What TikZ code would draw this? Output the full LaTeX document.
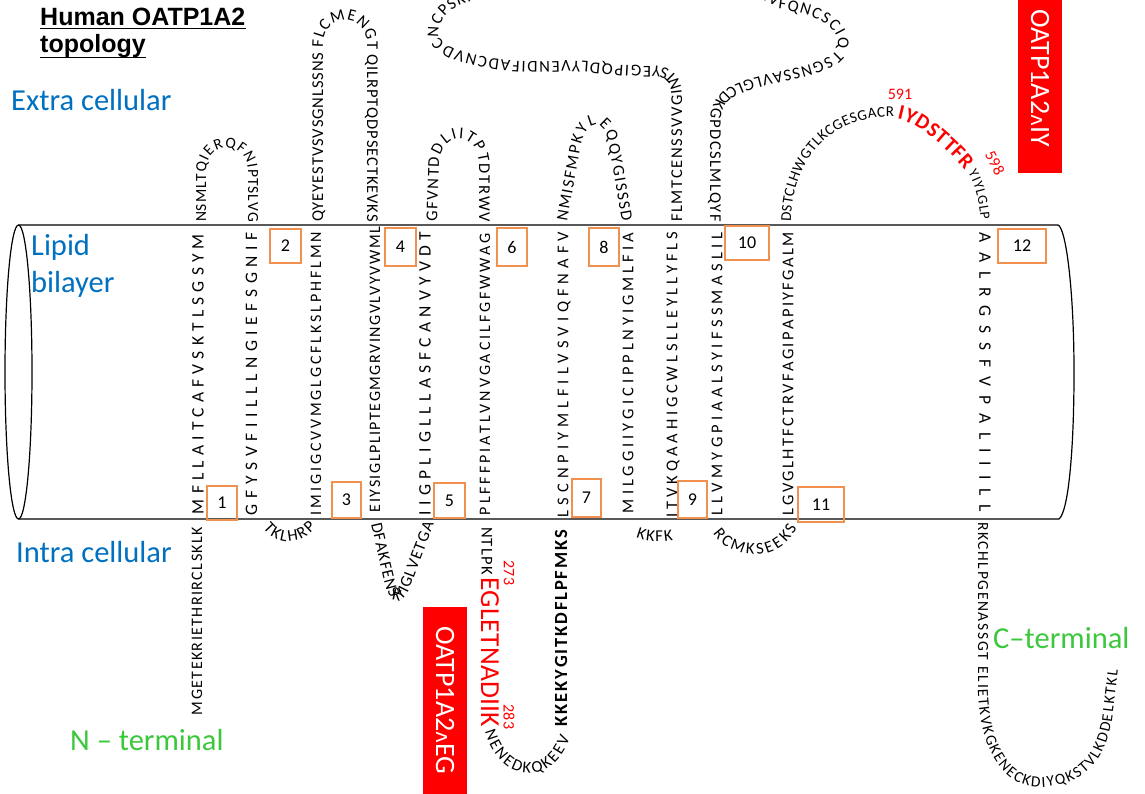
\documentclass[tikz,border=0pt]{standalone}
\usepackage{fontspec}
\setmainfont{Carlito}
\newfontfamily\titlef{Liberation Sans}
\newfontfamily\djv{DejaVu Sans}
\usetikzlibrary{decorations.text}
\ExplSyntaxOn
\NewDocumentCommand \spreadtext { m m }
  { \hbox_to_wd:nn {#1} { \tl_map_inline:nn {#2} { ##1 \hfil } \unskip } }
\ExplSyntaxOff
\definecolor{labblue}{RGB}{0,112,192}
\definecolor{labgreen}{RGB}{60,200,60}
\definecolor{boxorange}{RGB}{240,145,80}
\newcommand\tmA{\fontsize{17.5}{17.5}\selectfont}
\newcommand\tmB{\fontsize{16}{16}\selectfont}
\newcommand\tmC{\fontsize{16.5}{16.5}\selectfont}
\newcommand\loopfnt{\fontsize{15.5}{15.5}\selectfont}
\newcommand\loopbig{\fontsize{16.5}{16.5}\selectfont}
\newcommand\arcfnt{\fontsize{15}{15}\selectfont}
\newcommand\smallfnt{\fontsize{14}{14}\selectfont}
\newcommand\redarcfnt{\bfseries\fontsize{21}{21}\selectfont}
\newcommand\labfnt{\fontsize{30.5}{30.5}\selectfont}
\newcommand\caret{{\djv\fontsize{20}{20}\selectfont ʌ}}
\tikzset{
  cyl/.style={line width=1.2pt, black},
  tmup/.style={rotate=90, inner sep=0pt},
  tmdown/.style={rotate=-90, inner sep=0pt},
  numbox/.style={draw=boxorange, line width=1.3pt, inner sep=0pt, font=\fontsize{18}{18}\selectfont},
  looptext/.style={decorate, decoration={text along path, text align=fit to path, text={#1}}},
  lab/.style={anchor=base west, inner sep=0pt, font=\labfnt},
  redbox/.style={rotate=-90, fill=red, text=white, inner sep=0pt, minimum height=44pt, font=\fontsize{28}{28}\selectfont},
  rednum/.style={inner sep=0pt, text=red, font=\fontsize{16}{16}\selectfont},
  titlefont/.style={anchor=base west, inner sep=0pt, font=\titlef\bfseries\fontsize{25}{25}\selectfont}
}
\begin{document}
\begin{tikzpicture}[x=1pt,y=-1pt]
\useasboundingbox (0,0) rectangle (1145,794);
\fill[white] (0,0) rectangle (1145,794);

% cylinder
\draw[cyl] (18.5,372) ellipse [x radius=13.5, y radius=147];
\draw[cyl] (18.5,225) -- (1058,225) .. controls (1066,228) and (1074,290) .. (1074,372)
  .. controls (1074,454) and (1068,512) .. (1059,519) -- (18.5,519);

% title
\node[titlefont] (title1) at (40,26) {Human OATP1A2};
\node[titlefont] (title2) at (40,53) {topology};
\draw[line width=1.8pt] ([yshift=-2.5pt]title1.base west) -- ([yshift=-2.5pt]title1.base east);
\draw[line width=1.8pt] ([yshift=-4.5pt]title2.base west) -- ([yshift=-4.5pt]title2.base east);

% labels
\node[lab, text=labblue] (extra) at (11,111) {Extra cellular};
\node[lab, text=labblue] (lipid) at (31,255) {Lipid};
\node[lab, text=labblue] (bilayer) at (31,292) {bilayer};
\node[lab, text=labblue] (intra) at (16,562) {Intra cellular};
\node[lab, text=labgreen] (nterm) at (70,750) {N – terminal};
\node[lab, text=labgreen] (cterm) at (993,648) {C–terminal};

% transmembrane helices
\node[tmup, font=\tmA] (tm1) at (198,374) {\spreadtext{280pt}{MFLLAITCAFVSKTLSGSYM}};
\node[tmup, font=\tmA] (tm2) at (251.5,373.5) {\spreadtext{283pt}{GFYSVFIILLLNGIEFSGNIF}};
\node[tmup, font=\tmB] (tm3) at (316,373.5) {\spreadtext{283pt}{IMIGIGCVVMGLGCFLKSLPHFLMN}};
\node[tmup, font=\tmB] (tm4) at (375,369.5) {\spreadtext{285pt}{EIYSIGLPLIPTEGMGRVINGVLVYVWML}};
\node[tmup, font=\tmA] (tm5) at (425,373.5) {\spreadtext{283pt}{IIGPLIGLLLASFCANVYVDT}};
\node[tmup, font=\tmB] (tm6) at (485,374) {\spreadtext{282pt}{PLFFFPIATLVNVGACILFGFWWAG}};
\node[tmup, font=\tmC] (tm7) at (564,374.5) {\spreadtext{285pt}{LSCNPIYMLFILVSVIQFNAFV}};
\node[tmup, font=\tmC] (tm8) at (628,373) {\spreadtext{280pt}{MILGGIIYGICIPPLNYIGMLFIA}};
\node[tmup, font=\tmC] (tm9) at (673,374.5) {\spreadtext{285pt}{ITVKQAAHIGCWLSLLEYLLYFLS}};
\node[tmup, font=\tmC] (tm10) at (717,374) {\spreadtext{282pt}{LLVMYGPIAALSYIFSSMASLIL}};
\node[tmup, font=\tmC] (tm11) at (788,373.5) {\spreadtext{283pt}{LGVGLHTFCTRVFAGIPAPIYFGALM}};
\node[tmdown, font=\tmA] (tm12) at (985,372.5) {\spreadtext{279pt}{AALRGSSFVPALIIILL}};

% numbered boxes
\node[numbox, minimum width=30pt, minimum height=34pt] (b1) at (222,503) {1};
\node[numbox, minimum width=31pt, minimum height=34pt] (b2) at (285.5,246) {2};
\node[numbox, minimum width=29pt, minimum height=36pt] (b3) at (346.5,500) {3};
\node[numbox, minimum width=31pt, minimum height=38pt] (b4) at (400.5,247) {4};
\node[numbox, minimum width=31pt, minimum height=35pt] (b5) at (449.5,500.5) {5};
\node[numbox, minimum width=30pt, minimum height=38pt] (b6) at (512,247) {6};
\node[numbox, minimum width=29pt, minimum height=38pt] (b7) at (586.5,498) {7};
\node[numbox, minimum width=30pt, minimum height=38pt] (b8) at (604,247) {8};
\node[numbox, minimum width=29pt, minimum height=37pt] (b9) at (692.5,499.5) {9};
\node[numbox, minimum width=44pt, minimum height=34pt] (b10) at (747,243) {10};
\node[numbox, minimum width=46pt, minimum height=35pt] (b11) at (821,504.5) {11};
\node[numbox, minimum width=48pt, minimum height=34pt] (b12) at (1022,246) {12};

% N-terminus
\node[tmup, font=\tmB] (nseq) at (197,621) {\spreadtext{188pt}{MGETEKRIETHRIRCLSKLK}};

% loops
\path[looptext={|\loopfnt|NSMLTQIERQFNIPTSLVG}] (206,222) -- (206,172) .. controls (206,140) and (248,140) .. (248,172) -- (248,222);
\path[looptext={|\loopbig|TKLHRP}] (263,528) .. controls (277,546) and (300,546) .. (316,528);
\path[looptext={|\loopbig|QYEYESTVSVSGNLSSNS FLCMENGT QILRPTQDPSECTKEVKS}] (323,222) -- (323,45) .. controls (323,12) and (367,12) .. (367,45) -- (367,222);
\path[looptext={|\loopbig|DFAKFENSKYIGLVETGA}] (371,524) -- (385,585) .. controls (390,605) and (402,606) .. (409,590) -- (434,524);
\path[looptext={|\loopbig|GFVNTDDLIITPTDTRWV}] (437,222) -- (439,162) .. controls (442,132) and (476,130) .. (479,162) -- (479,222);

% intracellular loop with EG epitope
\node[tmdown, font=\loopbig] (l6a) at (487,551) {\spreadtext{48pt}{NTLPK}};
\node[tmdown, text=red, font=\fontsize{27.5}{27.5}\selectfont] (l6b) at (490,652) {\spreadtext{150pt}{EGLETNADIIK}};
\node[rednum, rotate=-90] (n273) at (509,573) {273};
\node[rednum, rotate=-90] (n283) at (509,717) {283};
\path[looptext={|\loopbig|NENEDKQKEEV}] (485,731) .. controls (498,780) and (550,792) .. (570,738);
\node[tmup, font=\bfseries\fontsize{18.5}{18.5}\selectfont] (l6c) at (561,628) {\spreadtext{196pt}{KKEKYGITKDFLPFMKS}};

\path[looptext={|\loopbig|NMISFMPKYLEQQYGISSSD}] (567,222) -- (580,150) .. controls (585,118) and (605,116) .. (609,146) -- (622,222);
\path[looptext={|\loopbig|KKFK}] (636,537) .. controls (648,542) and (660,542) .. (673,540);

% large extracellular loop
\path[looptext={|\loopbig|FLMTCENSSVVGINTSYEGIPQDLYVENDIFADCNVDC}] (682,222) -- (682,100)
  .. controls (682,74) and (672,66) .. (650,66) .. controls (610,66) and (590,60) .. (560,61)
  .. controls (530,62) and (500,62) .. (470,54) .. controls (455,50) and (444,45) .. (439,37);
\path[looptext={|\loopbig|NCPSKIWDPVCGNNGLSYLSACLAGCETSIGTGINMV}] (439,37) .. controls (436,25) and (447,8) .. (466,3)
  .. controls (560,-30) and (690,-35) .. (776,6);
\path[looptext={|\loopbig|FQNCSCIQTSGNSSAVLGLCDKGPDCSLMLQYF}] (778,9) .. controls (805,12) and (836,22) .. (838,42)
  .. controls (839,55) and (825,60) .. (800,67) .. controls (775,73) and (745,78) .. (728,88)
  .. controls (715,96) and (710,108) .. (710,125) -- (710,222);

\path[looptext={|\loopbig|RCMKSEEKS}] (713,533) .. controls (730,560) and (778,565) .. (797,528);

% extracellular loop with IY epitope
\path[looptext={|\arcfnt|DSTCLHWGTLKCGESGACR}] (791,222) .. controls (792,160) and (830,115) .. (894,117);
\path[decorate, decoration={text along path, text align=fit to path, text color=red, text={|\redarcfnt|IYDSTTFR}}] (897,119) .. controls (918,122) and (948,150) .. (965,170);
\path[looptext={|\smallfnt|YIYLGLP}] (968,173) .. controls (975,184) and (979,200) .. (981,220);
\node[rednum] (n591) at (900,94) {591};
\node[rednum, rotate=-62] (n598) at (995,163) {598};

% C-terminus
\path[looptext={|\loopfnt|RKCHLPGENASSGT ELIETKVKGKENECKDIYQKSTVLKDDELKTKL}] (978,522) -- (978,690)
  .. controls (980,760) and (1010,790) .. (1045,787) .. controls (1085,784) and (1105,760) .. (1112,720) -- (1118,670);

% epitope boxes
\node[redbox, minimum width=187pt] (eg) at (445,700.5) {OATP1A2\caret EG};
\node[redbox, minimum width=190pt] (iy) at (1040,78) {OATP1A2\caret IY};
\end{tikzpicture}
\end{document}
